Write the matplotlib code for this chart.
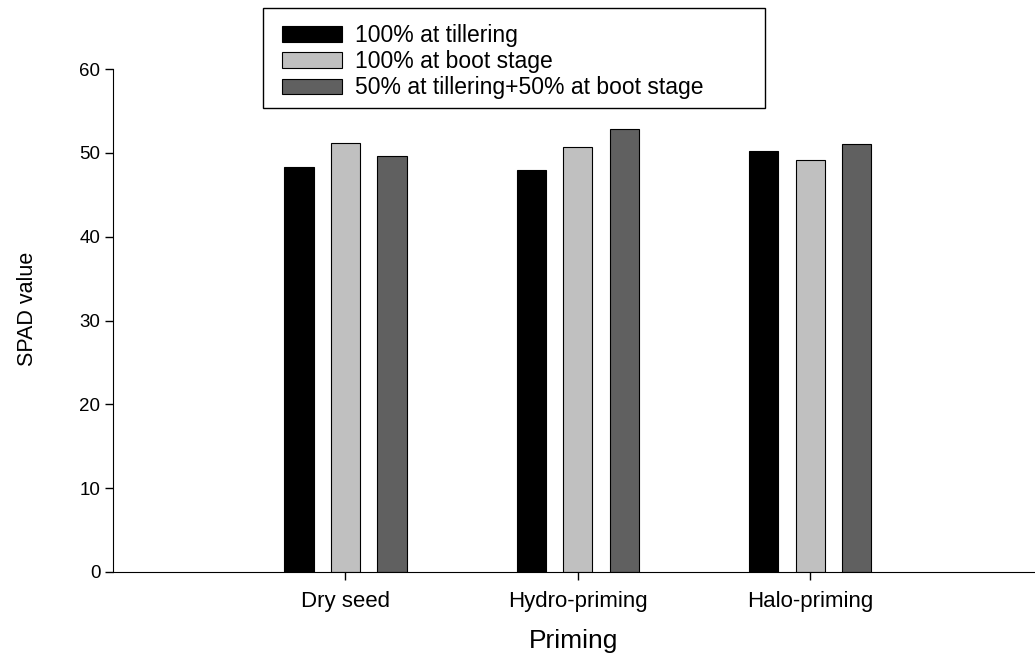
import numpy as np
import matplotlib
matplotlib.use('Agg')
from matplotlib import pyplot as plt
from matplotlib.patches import Rectangle

# SPAD readings per priming treatment and N application timing
categories = ['Dry seed', 'Hydro-priming', 'Halo-priming']
series_names = ['100% at tillering', '100% at boot stage',
                '50% at tillering+50% at boot stage']
tillering = [48.3, 47.9, 50.2]
boot_stage = [51.2, 50.7, 49.2]
split_dose = [49.6, 52.9, 51.1]
colors = ['#000000', '#c0c0c0', '#606060']

font = ['Liberation Sans', 'DejaVu Sans']
W, H = 1035, 661


def main():
    fig = plt.figure(figsize=(W / 100, H / 100), dpi=100)
    ax = fig.add_axes([113 / W, 89 / H, 922 / W, 503 / H])

    x = np.arange(1, len(categories) + 1)
    width = 0.125
    step = 0.2
    handles = []
    for i, (vals, c) in enumerate(zip([tillering, boot_stage, split_dose], colors)):
        b = ax.bar(x + (i - 1) * step, vals, width, color=c,
                   edgecolor='black', linewidth=0.8, label=series_names[i])
        handles.append(b)

    ax.set_xlim(0, 3.966)
    ax.set_ylim(0, 60)
    ax.set_yticks(np.arange(0, 61, 10))
    ax.set_xticks(x)
    ax.set_xticklabels(categories, fontsize=16, family=font)
    for lab in ax.get_yticklabels():
        lab.set_family(font)
        lab.set_fontsize(13.5)

    ax.spines['top'].set_visible(False)
    ax.spines['right'].set_visible(False)
    ax.tick_params(axis='both', direction='out', length=6, width=1, pad=3)
    ax.tick_params(axis='x', pad=8)

    ax.set_ylabel('SPAD value', fontsize=15.5, family=font)
    ax.yaxis.set_label_coords(-0.081, 0.523)
    ax.set_xlabel('Priming', fontsize=19, family=font, labelpad=12)

    # legend box drawn separately so it spans the full header width
    fig.patches.append(Rectangle((263 / W, 1 - 108 / H), 502 / W, 100 / H,
                                 transform=fig.transFigure, fill=False,
                                 edgecolor='black', linewidth=1.0))
    fig.legend(handles=handles, loc='upper left',
               bbox_to_anchor=(282 / W, 1 - 24 / H),
               borderaxespad=0, borderpad=0, frameon=False,
               prop={'family': font, 'size': 16.5},
               handlelength=2.6, handleheight=0.66, handletextpad=0.6,
               labelspacing=0.14)

    fig.savefig('out.png', dpi=100)
    plt.close(fig)


if __name__ == '__main__':
    main()
